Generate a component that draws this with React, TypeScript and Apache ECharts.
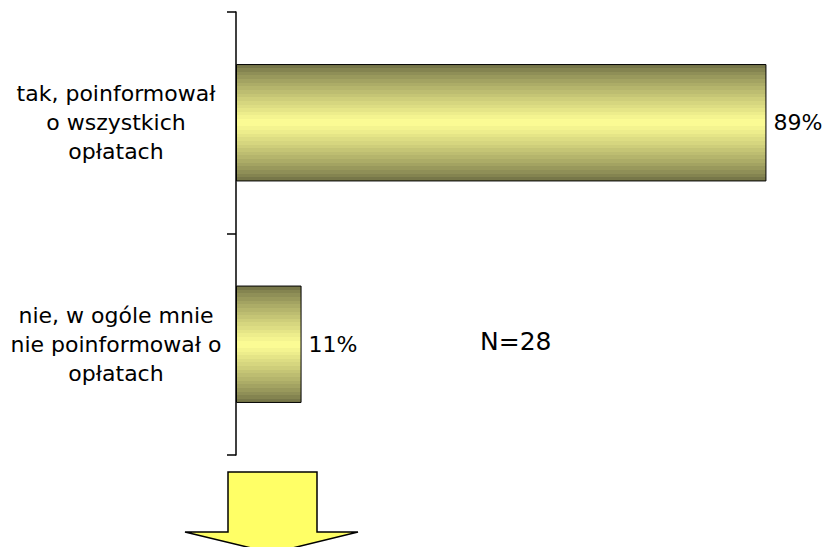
import React, { useEffect, useRef } from "react";
import * as echarts from "echarts";

const categories = [
  "tak, poinformował\no wszystkich\nopłatach",
  "nie, w ogóle mnie\nnie poinformował o\nopłatach",
];
const values = [89, 11];
const noteText = "N=28";

function bandedGradient(edge: number[], center: number[], steps: number) {
  const stops: { offset: number; color: string }[] = [];
  const total = steps * 2;
  for (let i = 0; i < total; i++) {
    const mid = (i + 0.5) / total;
    const t = 1 - Math.abs(mid - 0.5) * 2;
    const c = edge.map((e, k) => Math.round(e + (center[k] - e) * Math.pow(t, 0.8)));
    const col = `rgb(${c[0]},${c[1]},${c[2]})`;
    stops.push({ offset: i / total, color: col });
    stops.push({ offset: (i + 1) / total, color: col });
  }
  return new echarts.graphic.LinearGradient(0, 0, 0, 1, stops);
}

export default function App() {
  const ref = useRef<HTMLDivElement>(null);
  useEffect(() => {
    if (!ref.current) return;
    const chart = echarts.init(ref.current, null, { renderer: "svg" });
    const font = "'DejaVu Sans', Verdana, sans-serif";
    chart.setOption({
      animation: false,
      backgroundColor: "#ffffff",
      grid: { left: 236, top: 12, bottom: 92, width: 596, outerBoundsMode: "none", containLabel: false },
      xAxis: {
        type: "value",
        min: 0,
        max: 100,
        show: false,
      },
      yAxis: {
        type: "category",
        inverse: true,
        data: categories,
        axisLine: { show: true, lineStyle: { color: "#000", width: 1.5 } },
        axisTick: { show: true, length: 9, lineStyle: { color: "#000", width: 1.5 } },
        axisLabel: {
          align: "center",
          margin: 120,
          fontFamily: font,
          fontSize: 22,
          lineHeight: 29,
          color: "#000",
        },
      },
      series: [
        {
          type: "bar",
          data: values,
          barWidth: "53%",
          itemStyle: {
            color: bandedGradient([110, 110, 68], [255, 255, 150], 16),
            borderColor: "#000",
            borderWidth: 1,
          },
          label: {
            show: true,
            position: "right",
            distance: 7,
            fontFamily: font,
            fontSize: 22,
            color: "#000",
            formatter: (p: any) => `${Math.round(p.value)}%`,
          },
        },
      ],
      graphic: [
        {
          type: "text",
          left: 480,
          top: 329,
          style: {
            text: noteText,
            fontFamily: font,
            fontSize: 25,
            fill: "#000",
          },
        },
        {
          type: "polygon",
          shape: {
            points: [
              [228, 472],
              [317, 472],
              [317, 532],
              [358, 532],
              [272, 553],
              [185, 532],
              [228, 532],
            ],
          },
          style: { fill: "#ffff66", stroke: "#000", lineWidth: 1.5 },
        },
      ],
    });
    return () => chart.dispose();
  }, []);
  return (
    <div
      ref={ref}
      style={{ position: "fixed", left: 0, top: 0, width: 826, height: 547, background: "#fff" }}
    />
  );
}
